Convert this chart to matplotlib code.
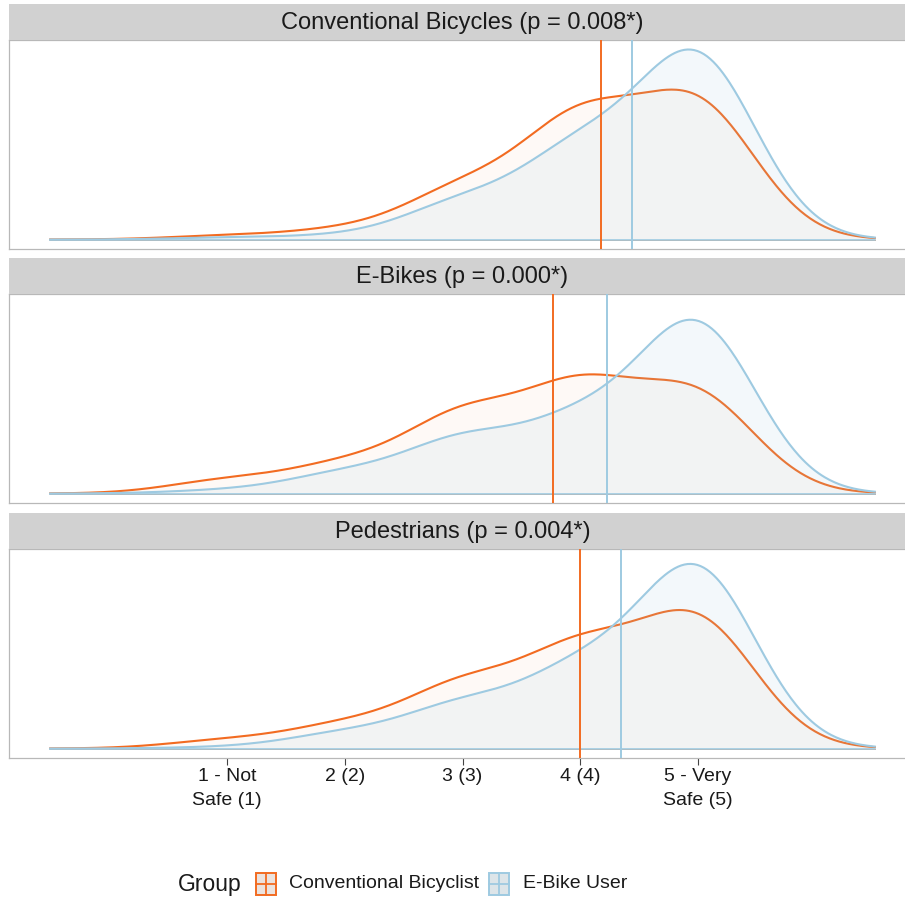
import numpy as np
import matplotlib
matplotlib.use("Agg")
import matplotlib.pyplot as plt
from matplotlib.patches import Rectangle
from matplotlib.lines import Line2D

plt.rcParams['font.family'] = ['Liberation Sans', 'DejaVu Sans']

# ---- data -------------------------------------------------------------
ratings = [1, 2, 3, 4, 5]
rating_labels = ["1 - Not\nSafe (1)", "2 (2)", "3 (3)", "4 (4)", "5 - Very\nSafe (5)"]
facets = ["Conventional Bicycles", "E-Bikes", "Pedestrians"]
p_values = ["0.008*", "0.000*", "0.004*"]
groups = ["Conventional Bicyclist", "E-Bike User"]

# share of respondents (%) giving each perceived-safety rating, one row per facet
conventional_bicyclist = [
    [1.2, 3.0, 15.5, 37.3, 43.0],
    [4.2, 8.7, 23.9, 32.2, 31.0],
    [2.6, 7.1, 19.3, 30.0, 41.0],
]
ebike_user = [
    [0.6, 1.2, 11.5, 27.5, 59.2],
    [1.0, 6.2, 16.5, 21.5, 54.8],
    [0.4, 4.7, 13.3, 23.5, 58.1],
]

# ---- styling -----------------------------------------------------------
line_colors = ["#F26B21", "#9ECAE1"]
fill_alphas = [0.04, 0.12]
BW = 0.5          # gaussian kernel bandwidth
CUT = 3           # density evaluated cut*bw beyond the data range

W, H = 905, 902
fig = plt.figure(figsize=(W / 100, H / 100), dpi=100)
fig.patch.set_facecolor("white")


def fbox(x0, y0, x1, y1):
    """pixel box (top-left origin) -> figure fraction [l, b, w, h]"""
    return [x0 / W, 1 - y1 / H, (x1 - x0) / W, (y1 - y0) / H]


r = np.asarray(ratings, float)
lo, hi = r.min() - CUT * BW, r.max() + CUT * BW
grid = np.linspace(lo, hi, 512)


def density(shares):
    w = np.asarray(shares, float)
    w = w / w.sum()
    z = (grid[:, None] - r[None, :]) / BW
    return (np.exp(-0.5 * z ** 2) / (BW * np.sqrt(2 * np.pi))) @ w


def mean_rating(shares):
    w = np.asarray(shares, float)
    return float((w * r).sum() / w.sum())


series = [conventional_bicyclist, ebike_user]
dens = [[density(s[i]) for s in series] for i in range(len(facets))]
ymax = max(d.max() for row in dens for d in row)
span = hi - lo
xlim = (lo - 0.05 * span, hi + 0.05 * span)
ylim = (-0.05 * ymax, 1.05 * ymax)

panel_left, panel_right = 9, 916
panel_tops = [40, 294, 549]
panel_h = 209
strip_h = 36

for i, facet in enumerate(facets):
    top = panel_tops[i]
    ax = fig.add_axes(fbox(panel_left, top, panel_right, top + panel_h))
    ax.set_xlim(*xlim)
    ax.set_ylim(*ylim)
    ax.set_facecolor("white")

    for g in range(len(groups)):
        d = dens[i][g]
        ax.fill(np.r_[grid[0], grid, grid[-1]], np.r_[0, d, 0],
                facecolor=line_colors[g], alpha=fill_alphas[g],
                edgecolor="none", zorder=2 + g)
        # density outline: upper curve plus the zero baseline of the polygon
        ax.plot(grid, d, color=line_colors[g], lw=1.5, zorder=2 + g,
                solid_joinstyle="round")
        ax.plot([grid[0], grid[-1]], [0, 0], color=line_colors[g],
                lw=1.2 if g else 0.6, zorder=2 + g)

    for g in range(len(groups)):
        ax.axvline(mean_rating(series[g][i]), color=line_colors[g],
                   lw=1.4, zorder=5)

    for sp in ax.spines.values():
        sp.set_color("#b8b8b8")
        sp.set_linewidth(0.9)
    ax.set_yticks([])
    if i == len(facets) - 1:
        ax.set_xticks(ratings)
        ax.set_xticklabels(rating_labels, fontsize=14, color="#1a1a1a",
                           linespacing=1.55)
        ax.tick_params(axis="x", length=5, width=0.8, color="#444444", pad=2)
    else:
        ax.set_xticks([])

    sax = fig.add_axes(fbox(panel_left, top - strip_h, panel_right, top))
    sax.set_facecolor("#D1D1D1")
    sax.set_xticks([])
    sax.set_yticks([])
    for sp in sax.spines.values():
        sp.set_visible(False)
    sax.text(0.5, 0.47, f"{facet} (p = {p_values[i]})", ha="center",
             va="center", fontsize=17, color="#1a1a1a",
             transform=sax.transAxes)

# ---- legend ------------------------------------------------------------
leg_y = 884
fig.text(178 / W, 1 - leg_y / H, "Group", fontsize=16.5, color="#1a1a1a",
         ha="left", va="center")
key_x = [256, 489]
text_x = [289, 523]
kw, kh = 20, 22
for g, label in enumerate(groups):
    x0 = key_x[g]
    y0 = leg_y - kh / 2
    fig.patches.append(Rectangle((x0 / W, 1 - (y0 + kh) / H), kw / W, kh / H,
                                 transform=fig.transFigure,
                                 facecolor="#EBEBEB", edgecolor="none"))
    fig.patches.append(Rectangle((x0 / W, 1 - (y0 + kh) / H), kw / W, kh / H,
                                 transform=fig.transFigure,
                                 facecolor=line_colors[g], alpha=fill_alphas[g] * 1.5,
                                 edgecolor="none"))
    fig.patches.append(Rectangle((x0 / W, 1 - (y0 + kh) / H), kw / W, kh / H,
                                 transform=fig.transFigure, facecolor="none",
                                 edgecolor=line_colors[g], lw=1.4))
    cx = x0 + kw / 2
    fig.lines.append(Line2D([cx / W, cx / W], [1 - y0 / H, 1 - (y0 + kh) / H],
                            transform=fig.transFigure, color=line_colors[g], lw=1.3))
    fig.lines.append(Line2D([x0 / W, (x0 + kw) / W], [1 - leg_y / H, 1 - leg_y / H],
                            transform=fig.transFigure, color=line_colors[g], lw=1.3))
    fig.text(text_x[g] / W, 1 - leg_y / H, label, fontsize=14, color="#1a1a1a",
             ha="left", va="center")

fig.savefig("out.png", dpi=100, facecolor="white")
